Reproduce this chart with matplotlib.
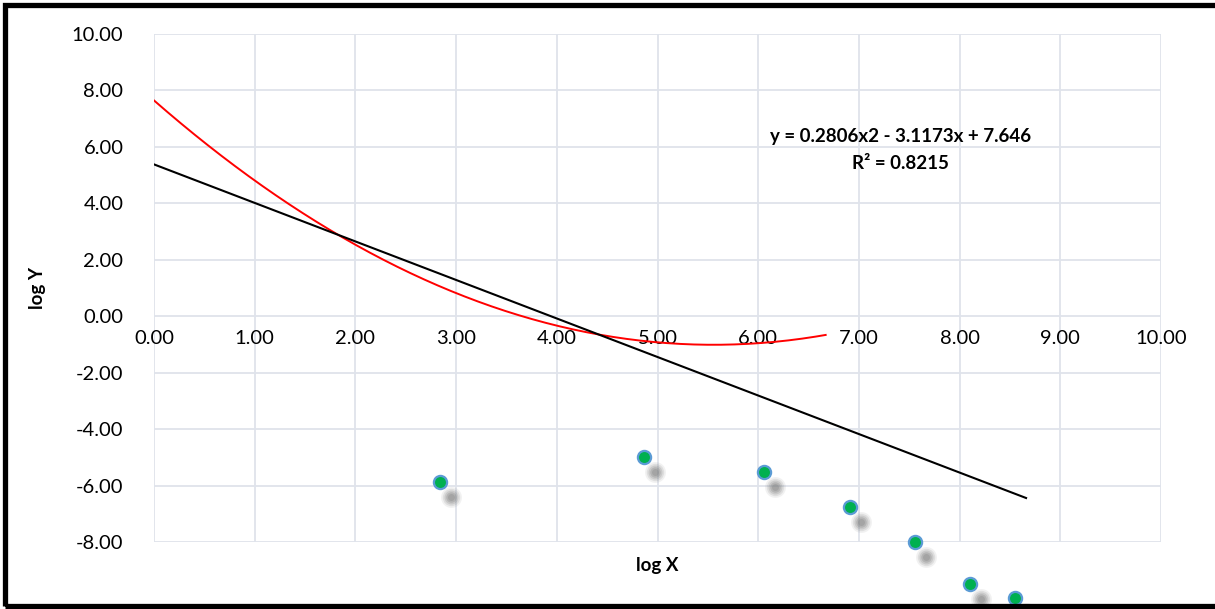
import numpy as np
import matplotlib
matplotlib.use("Agg")
import matplotlib.pyplot as plt
from matplotlib import transforms
from matplotlib.patches import Rectangle

plt.rcParams['font.family'] = ['Lato', 'DejaVu Sans']

# observed points (log X, log Y)
log_x = [2.84, 4.87, 6.06, 6.91, 7.56, 8.10, 8.55]
log_y = [-5.88, -4.99, -5.52, -6.76, -8.00, -9.49, -10.00]

# polynomial trendline (from the label) and straight line
poly_coef = [0.2806, -3.1173, 7.646]
poly_x_end = 6.67
lin_slope = -1.365
lin_icpt = 5.38
lin_x_end = 8.66

eq_text = "y = 0.2806x2 - 3.1173x + 7.646"
r2_text = "R\u00b2 = 0.8215"

x_ticks = np.arange(0, 11, 1)
y_ticks = np.arange(-8, 11, 2)

fig = plt.figure(figsize=(12.15, 6.09), dpi=100)
ax = fig.add_axes([154/1215, 1 - 542/609, (1161-154)/1215, (542-34)/609])

grid_c = '#dfe3eb'
ax.set_xlim(0, 10)
ax.set_ylim(-8, 10)
for s in ax.spines.values():
    s.set_visible(False)
ax.set_xticks(x_ticks)
ax.set_yticks(y_ticks)
ax.grid(True, color=grid_c, lw=1.3, zorder=0)
ax.tick_params(length=0, labelsize=14.5, colors='black')
ax.set_yticklabels(["%.2f" % v for v in y_ticks])
ax.set_xticklabels([])
ax.tick_params(axis='y', pad=22)

# x tick labels sit just under the y=0 line
for v in x_ticks:
    ax.text(v, -0.5, "%.2f" % v, ha='center', va='top', fontsize=14.5)

# trend lines
px = np.linspace(0, poly_x_end, 200)
ax.plot(px, np.polyval(poly_coef, px), color='#ff0000', lw=1.4, zorder=3)
lx = np.array([0, lin_x_end])
ax.plot(lx, lin_slope * lx + lin_icpt, color='black', lw=1.5, zorder=3)

# blurred shadows under the markers
shadow_tr = transforms.offset_copy(ax.transData, fig=fig, x=11, y=-15, units='dots')
for sz, a in [(15, 0.10), (12.5, 0.16), (10, 0.22), (7.5, 0.28), (5, 0.3)]:
    ax.plot(log_x, log_y, 'o', ms=sz, color='#7f7f7f', alpha=a, mec='none',
            transform=shadow_tr, clip_on=False, zorder=4)

ax.plot(log_x, log_y, 'o', ms=9.5, color='#00b050', mec='#5b9bd5', mew=1.6,
        clip_on=False, zorder=5)

ax.text(7.41, 6.38, eq_text, ha='center', va='center', fontsize=13.5, fontweight='bold')
ax.text(7.41, 5.42, r2_text, ha='center', va='center', fontsize=13.5, fontweight='bold')

fig.text(37/1215, 1 - 288/609, "log Y", rotation=90, ha='center', va='center',
         fontsize=13.5, fontweight='bold')
fig.text(657/1215, 1 - 565/609, "log X", ha='center', va='center',
         fontsize=13.5, fontweight='bold')

# outer frame
fig.patches.append(Rectangle((5/1215, 3/609), 1.0, 1 - 8/609, transform=fig.transFigure,
                             fill=False, ec='black', lw=3.8, zorder=10))

fig.savefig("out.png", dpi=100)
